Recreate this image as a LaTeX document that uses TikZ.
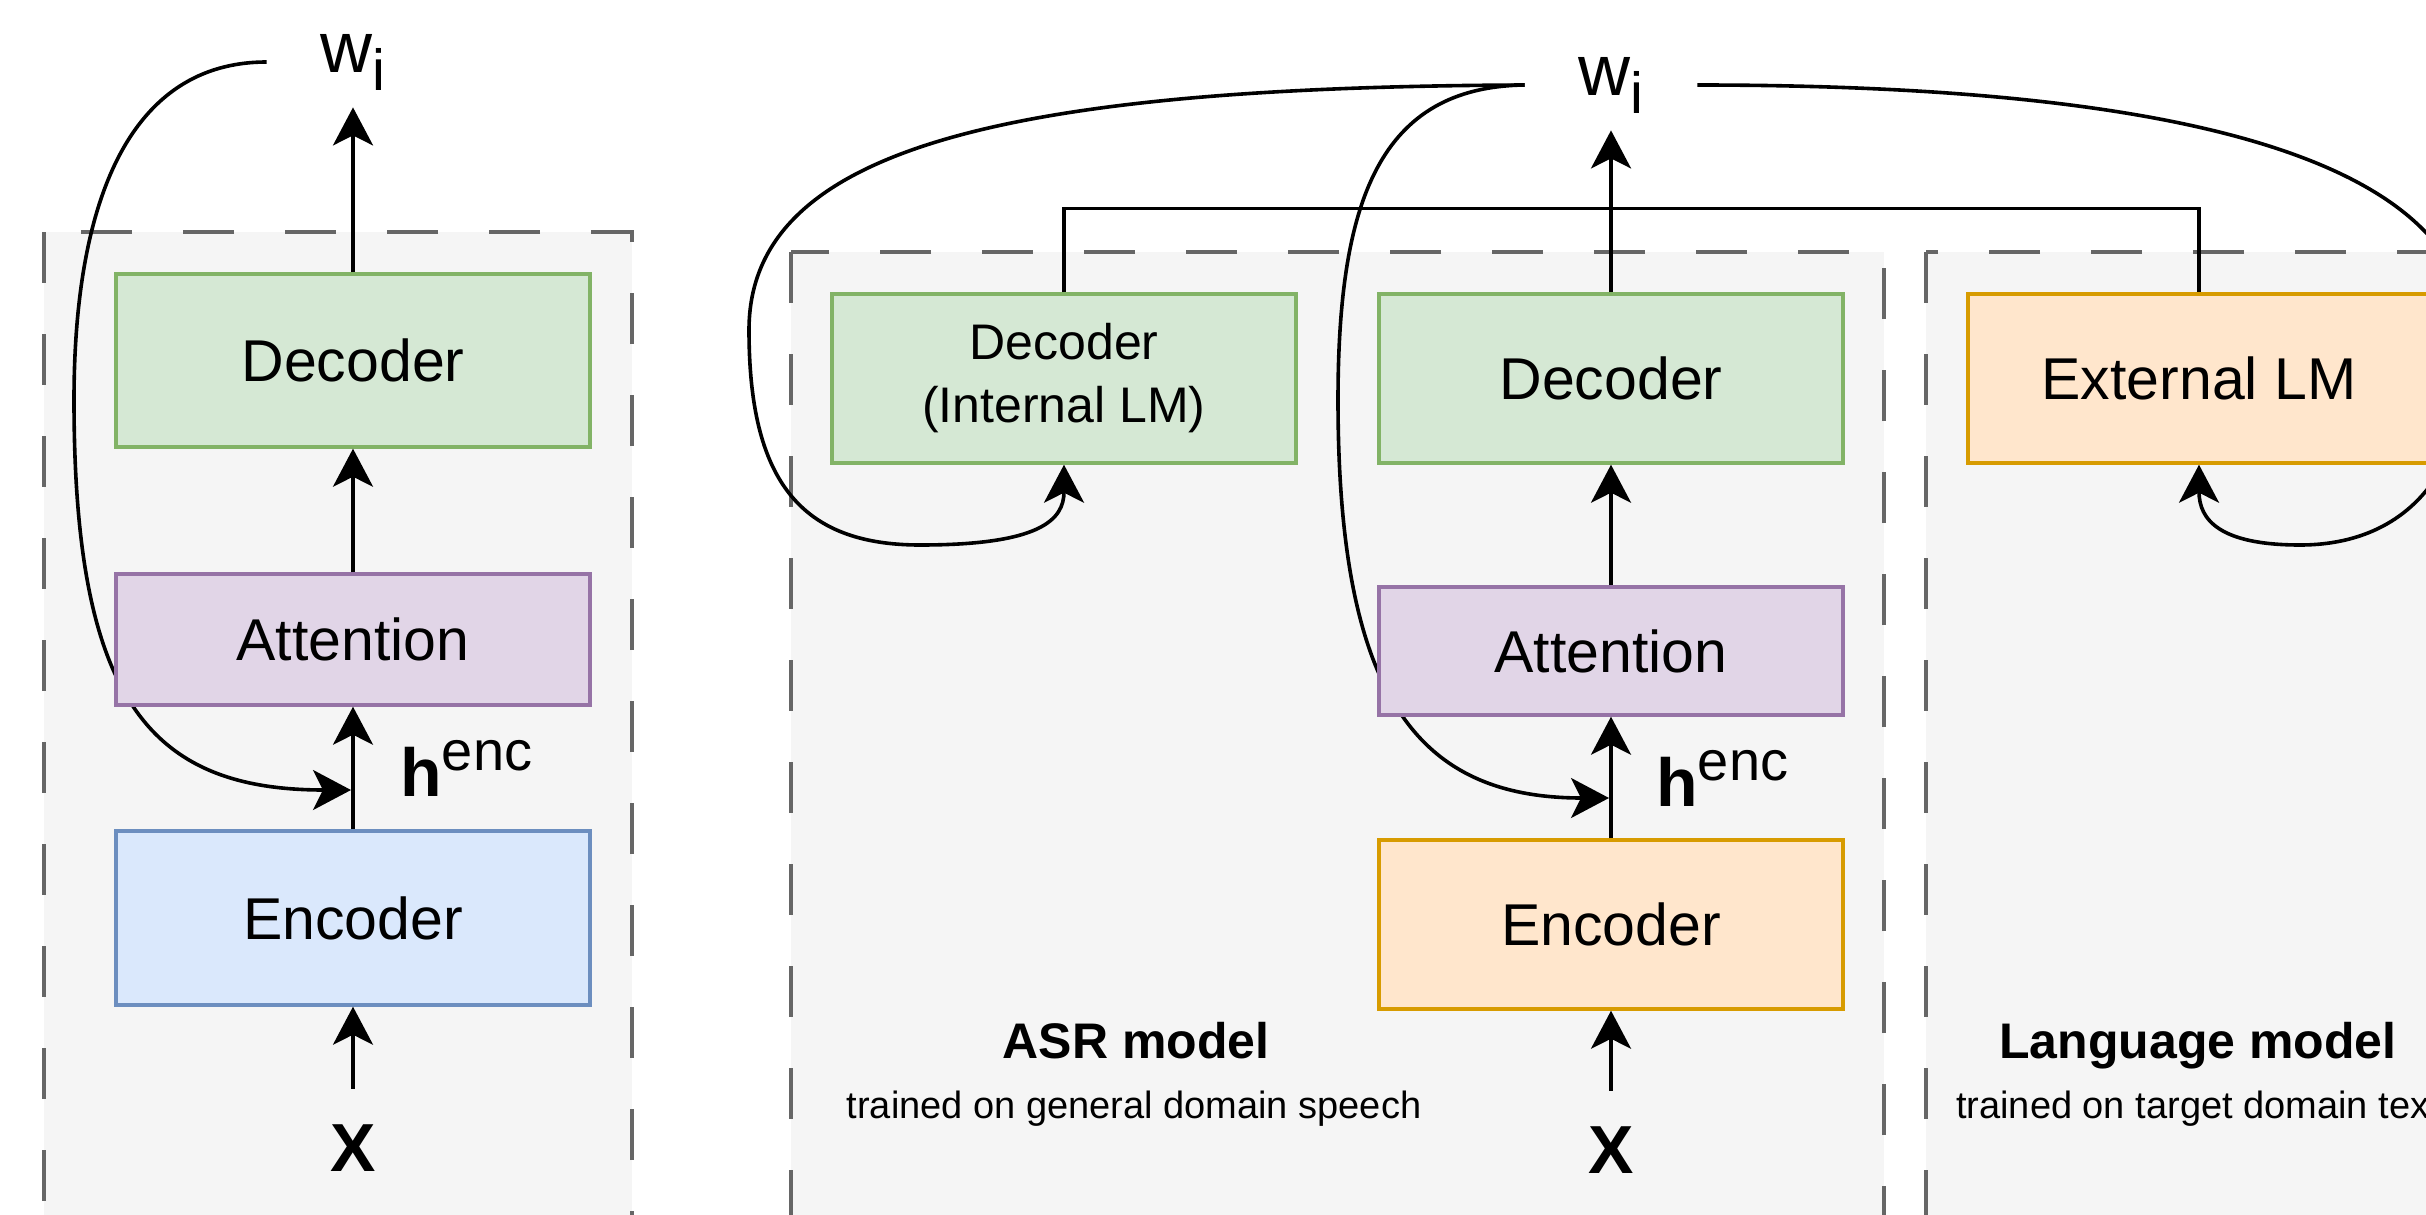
\documentclass[tikz,border=0pt]{standalone}
\usepackage{fontspec}
\setmainfont{Liberation Sans}
\usetikzlibrary{arrows.meta}
\pgfdeclarelayer{panels}
\pgfdeclarelayer{curves}
\pgfsetlayers{panels,curves,main}
\definecolor{grnF}{HTML}{D5E8D4}\definecolor{grnD}{HTML}{82B366}
\definecolor{purF}{HTML}{E1D5E7}\definecolor{purD}{HTML}{9673A6}
\definecolor{bluF}{HTML}{DAE8FC}\definecolor{bluD}{HTML}{6C8EBF}
\definecolor{orgF}{HTML}{FFE6CC}\definecolor{orgD}{HTML}{D79B00}
\definecolor{panF}{HTML}{F5F5F5}\definecolor{panD}{HTML}{666666}
\newcommand{\wsub}{\fontsize{36}{40}\selectfont w\raisebox{-9pt}{\fontsize{29}{30}\selectfont i}}
\newcommand{\hsup}{\fontsize{34}{40}\selectfont\bfseries h\fontsize{28}{32}\selectfont\mdseries\raisebox{13pt}{enc}}
\begin{document}
\begin{tikzpicture}[x=0.5pt,y=-0.5pt,
  panel/.style={fill=panF,draw=panD,line width=2.1pt,dash pattern=on 25.5pt off 25.5pt},
  box/.style={draw,line width=1.7pt,inner sep=0pt,align=center,font=\fontsize{29.5}{35}\selectfont},
  greenbox/.style={box,fill=grnF,draw=grnD},
  purplebox/.style={box,fill=purF,draw=purD},
  bluebox/.style={box,fill=bluF,draw=bluD},
  orangebox/.style={box,fill=orgF,draw=orgD},
  conn/.style={line width=1.8pt,draw=black},
  arr/.style={conn,-{Stealth[length=19pt,width=20pt,inset=5pt]}},
  wnode/.style={inner sep=0pt,minimum width=86pt,minimum height=45pt},
  xnode/.style={inner sep=0pt,minimum height=59pt,font=\fontsize{34}{40}\selectfont\bfseries},
  henc/.style={anchor=base west,inner sep=0pt},
  title/.style={anchor=base,inner sep=0pt,font=\fontsize{25}{30}\selectfont\bfseries},
  subtitle/.style={anchor=base,inner sep=0pt,font=\fontsize{19}{23}\selectfont}
]
\useasboundingbox (0,0) rectangle (2426,1215);

% panels
\begin{pgfonlayer}{panels}
  \fill[white] (0,0) rectangle (2426,1215);
  \draw[panel] (44,232) rectangle (632,1320);
  \draw[panel] (791,252) rectangle (1884,1320);
  \draw[panel] (1926,252) rectangle (2700,1320);
\end{pgfonlayer}

% output labels
\node[wnode] (w1) at (353,62) {\wsub};
\node[wnode] (w2) at (1611,85) {\wsub};

% left model
\node[greenbox,minimum width=237pt,minimum height=86.5pt] (dec1) at (353,360.5) {Decoder};
\node[purplebox,minimum width=237pt,minimum height=65.5pt] (att1) at (353,639.5) {Attention};
\node[bluebox,minimum width=237pt,minimum height=87pt] (enc1) at (353,918) {Encoder};
\node[xnode] (x1) at (353,1148) {X};
\node[henc] (h1) at (400,796) {\hsup};
\coordinate (c1) at (351,790);

% ASR model
\node[greenbox,minimum width=232pt,minimum height=84.5pt,font=\fontsize{25}{31.5}\selectfont] (dint) at (1064,378.5) {Decoder\\(Internal LM)};
\node[greenbox,minimum width=232pt,minimum height=84.5pt] (dec2) at (1611,378.5) {Decoder};
\node[purplebox,minimum width=232pt,minimum height=64pt] (att2) at (1611,651) {Attention};
\node[orangebox,minimum width=232pt,minimum height=84.5pt] (enc2) at (1611,924.5) {Encoder};
\node[xnode] (x2) at (1611,1150) {X};
\node[henc] (h2) at (1656,806) {\hsup};
\coordinate (c2) at (1609,798);
\node[title] (asrT) at (1136,1058) {ASR model};
\node[subtitle] (asrS) at (1134,1118) {trained on general domain speech};

% language model
\node[orangebox,minimum width=231pt,minimum height=84.5pt] (ext) at (2199,378.5) {External LM};
\node[title] (lmT) at (2198,1058) {Language model};
\node[subtitle] (lmS) at (2198,1118) {trained on target domain text};

% straight arrows
\draw[arr] (x1) -- (enc1);
\draw[arr] (enc1) -- (att1);
\draw[arr] (att1) -- (dec1);
\draw[arr] (dec1) -- (w1);
\draw[arr] (x2) -- (enc2);
\draw[arr] (enc2) -- (att2);
\draw[arr] (att2) -- (dec2);
\draw[arr] (dec2) -- (w2);
\draw[conn] (dint.north) -- ++(0,-84) -| (ext.north);

% feedback curves
\begin{pgfonlayer}{curves}
  \draw[arr] (w1.west) .. controls (130,62) and (74,200) .. (74,400)
     .. controls (74,700) and (150,790) .. (c1);
  \draw[arr] (w2.west) .. controls (1000,87) and (749,150) .. (749,330)
     .. controls (749,480) and (800,545) .. (920,545)
     .. controls (1040,545) and (1064,520) .. (dint.south);
  \draw[arr] (w2.west) .. controls (1380,87) and (1338,200) .. (1338,400)
     .. controls (1338,700) and (1420,798) .. (c2);
  \draw[arr] (w2.east) .. controls (2150,85) and (2470,150) .. (2470,340)
     .. controls (2470,480) and (2400,545) .. (2300,545)
     .. controls (2220,545) and (2199,520) .. (ext.south);
\end{pgfonlayer}
\end{tikzpicture}
\end{document}
